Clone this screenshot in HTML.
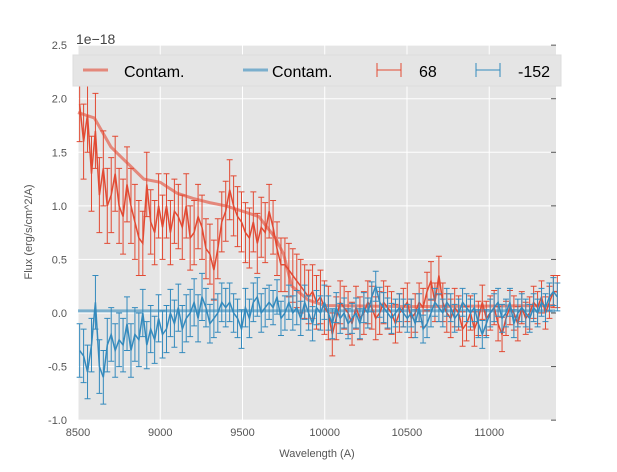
<!DOCTYPE html>
<html><head><meta charset="utf-8"><style>
body{margin:0;background:#fff}
svg{font-family:"Liberation Sans",sans-serif}
</style></head><body>
<svg id="c" width="617" height="467" xmlns="http://www.w3.org/2000/svg">
<rect x="78" y="45" width="478" height="375" fill="#e5e5e5"/>
<g id="grid"></g><g id="marks"></g><g id="ticks"></g>
<text x="76" y="44" font-size="14" fill="#444">1e−18</text>
<text x="317" y="457" font-size="11" fill="#555" text-anchor="middle">Wavelength (A)</text>
<text transform="translate(32,232) rotate(-90)" font-size="11" fill="#555" text-anchor="middle">Flux (erg/s/cm^2/A)</text>
<g>
<rect x="73" y="55" width="488" height="31" fill="#e5e5e5" stroke="#ddd"/>
<line x1="83" y1="70" x2="108" y2="70" stroke="#E24A33" stroke-opacity="0.6" stroke-width="3"/>
<text x="124" y="77" font-size="16">Contam.</text>
<line x1="243" y1="70" x2="268" y2="70" stroke="#348ABD" stroke-opacity="0.6" stroke-width="3"/>
<text x="272" y="77" font-size="16">Contam.</text>
<path d="M377 70H401M377 63V77M401 63V77M389 70V70" stroke="#E24A33" fill="none"/>
<text x="419" y="77" font-size="16">68</text>
<path d="M476 70H500M476 63V77M500 63V77" stroke="#348ABD" fill="none"/>
<text x="518" y="77" font-size="16">-152</text>
</g>
</svg>
<script>
const xTicks=[8500,9000,9500,10000,10500,11000];
const yTicks=[-1.0,-0.5,0.0,0.5,1.0,1.5,2.0,2.5];
const wlStart=8510, wlStep=24;
const redVals=[1.95,1.6,1.85,1.3,1.7,1.1,1.35,1.0,1.1,1.3,1.0,0.9,1.2,1.0,0.85,0.7,0.65,1.2,0.85,0.75,1.0,
0.8,1.0,0.75,0.95,0.9,0.8,1.0,0.7,0.75,0.9,0.8,0.6,0.55,0.4,0.6,0.85,0.95,1.15,1.0,0.9,0.85,
0.75,0.7,0.85,0.65,0.8,0.75,0.95,0.8,0.6,0.45,0.45,0.4,0.35,0.3,0.25,0.2,0.15,0.2,0.1,0.15,0.05,
0.0,-0.2,-0.05,0.1,0.05,0.0,-0.1,0.05,-0.05,0.0,0.1,0.05,-0.05,0.0,0.1,0.05,0.0,-0.1,0.0,0.05,0.1,
-0.05,0.0,0.1,0.05,0.2,0.3,0.1,0.35,0.1,0.0,-0.05,0.05,0.0,-0.15,-0.1,0.0,-0.15,-0.05,0.1,-0.05,0.0,
0.05,-0.1,-0.2,-0.05,0.05,0.0,-0.1,0.05,-0.05,0.0,0.1,0.05,0.15,0.0,0.1,0.2,0.2];
const blueVals=[-0.35,-0.4,-0.55,-0.3,0.1,-0.5,-0.6,-0.3,-0.2,-0.35,-0.25,-0.3,-0.1,-0.35,-0.2,-0.25,0.0,-0.3,-0.15,-0.25,-0.05,
-0.2,-0.15,0.0,-0.1,0.05,-0.15,-0.05,0.0,0.1,-0.05,0.15,0.05,-0.1,-0.05,0.0,0.1,0.05,0.1,0.0,-0.05,-0.15,
0.05,-0.05,0.1,0.15,0.0,0.05,0.1,0.05,0.15,-0.05,0.0,0.1,0.0,0.05,-0.05,0.1,0.0,-0.1,0.05,0.0,0.1,
0.0,-0.1,0.05,-0.05,0.0,-0.1,-0.05,0.0,-0.1,0.05,0.0,0.15,0.25,0.1,0.05,0.0,-0.05,0.0,0.05,0.0,-0.05,
0.0,-0.1,0.05,-0.15,-0.1,0.0,0.1,0.05,0.0,0.1,0.05,-0.05,0.0,0.1,0.05,0.0,0.05,-0.1,-0.2,-0.1,0.0,
0.05,0.1,-0.05,0.0,0.1,-0.1,0.0,0.05,0.0,-0.05,0.05,0.0,0.1,0.05,0.15,0.2,0.15];
const redErr=[0.35,0.3,0.28,0.25,0.2,0.18,0.16,0.15];
const blueErr=[0.25,0.22,0.18,0.16,0.14,0.13,0.13,0.13];
const contamWl=[8500,8600,8700,8800,8900,9000,9100,9200,9300,9400,9500,9600,9700,9750,9800,9900,10000,10500,11400];
const contamRed=[1.87,1.82,1.55,1.4,1.25,1.22,1.12,1.07,1.03,1.0,0.95,0.9,0.7,0.55,0.25,0.12,0.07,0.06,0.07];
const contamBlue=[0.02,0.02];
const contamBlueWl=[8500,11400];
const X=v=>78+(v-8500)*478/2906, Y=v=>313-v*107.14;
const NS='http://www.w3.org/2000/svg';
function mk(t,a,p){const e=document.createElementNS(NS,t);for(const k in a)e.setAttribute(k,a[k]);p.appendChild(e);return e;}
const grid=document.getElementById('grid'),ticks=document.getElementById('ticks'),marks=document.getElementById('marks');
xTicks.forEach(t=>{const g=mk('line',{x1:X(t),x2:X(t),y1:45,y2:420,stroke:'#fff'},grid);


const l=mk('text',{x:X(t),y:436,'font-size':11,fill:'#555','text-anchor':'middle'},ticks);l.textContent=t;

});
yTicks.forEach(t=>{const g=mk('line',{x1:78,x2:556,y1:Y(t),y2:Y(t),stroke:'#fff'},grid);


mk('line',{x1:551,x2:556,y1:Y(t),y2:Y(t),stroke:'#555'},ticks);
const l=mk('text',{x:67,y:Y(t)+4,'font-size':11,fill:'#555','text-anchor':'end'},ticks);l.textContent=t.toFixed(1);

});
function line(xs,ys,color,op,w,name){const d=xs.map((x,i)=>(i?'L':'M')+X(x).toFixed(1)+' '+Y(ys[i]).toFixed(1)).join('');
const p=mk('path',{d,stroke:color,'stroke-opacity':op,'stroke-width':w,fill:'none'},marks);

}
line(contamBlueWl,contamBlue,'#348ABD',0.6,3,'contam-blue-line');
line(contamWl,contamRed,'#E24A33',0.6,3,'contam-red-line');
function series(vals,errs,color,name){const xs=vals.map((v,i)=>wlStart+i*wlStep);
let d='';vals.forEach((v,i)=>{const e=errs[Math.min(errs.length-1,Math.floor(i/16))];const x=X(xs[i]);
d+=`M${x} ${Y(v-e)}V${Y(v+e)}M${x-3} ${Y(v-e)}h6M${x-3} ${Y(v+e)}h6`;});
const eb=mk('path',{d,stroke:color,'stroke-width':1,fill:'none'},marks);


line(xs,vals,color,1,1.5,name+'-line');}
series(redVals,redErr,'#E24A33','series-68');
series(blueVals,blueErr,'#348ABD','series-152');
</script>
</body></html>
